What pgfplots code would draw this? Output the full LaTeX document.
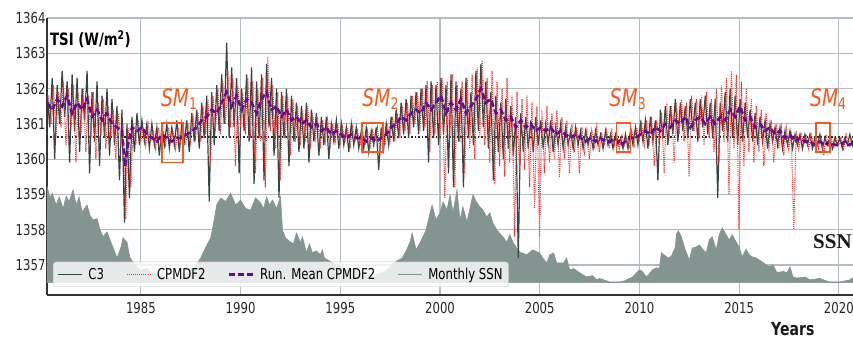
\documentclass[border=0pt]{standalone}
\usepackage{pgfplots}
\pgfplotsset{compat=1.18}
\usepackage{fontspec}
\setmainfont{DejaVu Sans}[FakeStretch=0.78]
\newfontfamily\ssnfont{Liberation Serif}
\definecolor{cthree}{RGB}{58,68,66}
\definecolor{cpm}{RGB}{255,45,45}
\definecolor{runmean}{RGB}{105,10,145}
\definecolor{ssn}{RGB}{132,148,145}
\definecolor{gridc}{RGB}{178,190,190}
\definecolor{smc}{RGB}{255,85,25}
\begin{document}
\begin{tikzpicture}
\useasboundingbox (-47pt,-47pt) rectangle (806pt,295pt);
\begin{axis}[
  at={(0pt,0pt)}, anchor=south west,
  scale only axis, width=806pt, height=277pt,
  xmin=1980.29, xmax=2020.71, ymin=1356.15, ymax=1364,
  xtick={1985,1990,...,2020}, ytick={1357,1358,...,1364},
  grid=major, major grid style={gridc, line width=1.1pt},
  axis x line*=bottom, axis y line*=left,
  axis line style={line width=1.3pt, black!80},
  major tick length=0pt,
  tick label style={font=\fontsize{15}{15}\selectfont, text=black!85},
  xticklabel style={yshift=-4pt},
  yticklabel style={xshift=2pt},
  /pgf/number format/1000 sep={},
  /pgf/number format/assume math mode=true,
  legend columns=4,
  legend image code/.code={\draw[#1] (0pt,0pt) -- (24pt,0pt);},
  legend style={at={(0.0074,0.029)}, anchor=south west,
    font=\fontsize{15}{15}\selectfont, draw=black!25, rounded corners=3pt,
    fill=white, fill opacity=0.8, text opacity=1, inner xsep=4pt, inner ysep=4pt,
    /tikz/every odd column/.append style={column sep=4pt},
    /tikz/every even column/.append style={column sep=20pt}},
]
% SSN filled area
\addplot[fill=ssn, draw=ssn, line width=0.6pt, forget plot] coordinates {
(1980.30,1356.5)(1980.30,1359.21)(1980.45,1358.9)(1980.55,1359.04)(1980.75,1358.7)(1980.90,1358.93)
(1981.10,1358.6)(1981.25,1358.95)(1981.40,1358.8)(1981.60,1359.13)(1981.75,1358.7)(1981.90,1358.93)
(1982.05,1358.5)(1982.30,1358.70)(1982.45,1358.4)(1982.60,1358.28)(1982.80,1358.31)(1982.95,1358.0)
(1983.10,1357.80)(1983.30,1357.94)(1983.45,1357.71)(1983.60,1357.5)(1983.80,1357.20)(1984.00,1357.5)
(1984.10,1357.77)(1984.30,1357.65)(1984.45,1357.20)(1984.60,1357.09)(1984.80,1356.95)(1985.00,1356.85)
(1985.30,1356.9)(1985.60,1356.75)(1985.90,1356.7)(1986.20,1356.6)(1986.50,1356.65)(1986.80,1356.6)
(1987.10,1356.7)(1987.40,1356.8)(1987.70,1356.95)(1988.00,1357.20)(1988.25,1357.5)(1988.50,1357.77)
(1988.65,1358.2)(1988.80,1358.70)(1989.00,1358.90)(1989.25,1358.8)(1989.50,1359.04)(1989.75,1358.7)
(1990.00,1358.84)(1990.25,1358.6)(1990.50,1358.56)(1990.75,1358.9)(1991.00,1358.76)(1991.15,1358.6)
(1991.30,1358.93)(1991.45,1358.7)(1991.60,1358.84)(1991.80,1358.6)(1992.00,1358.93)(1992.10,1357.99)
(1992.25,1357.77)(1992.50,1357.65)(1992.65,1357.6)(1992.80,1357.91)(1993.00,1357.63)(1993.10,1357.80)
(1993.30,1357.35)(1993.45,1357.6)(1993.60,1357.35)(1993.80,1357.4)(1994.00,1357.29)(1994.10,1357.43)
(1994.20,1357.20)(1994.50,1357.1)(1994.80,1357.0)(1995.10,1356.95)(1995.40,1356.85)(1995.70,1356.9)
(1996.00,1356.75)(1996.30,1356.7)(1996.60,1356.65)(1996.90,1356.75)(1997.20,1356.8)(1997.50,1356.95)
(1997.80,1357.1)(1998.10,1357.20)(1998.30,1357.4)(1998.50,1357.65)(1998.60,1357.91)(1998.80,1357.43)
(1999.00,1357.63)(1999.30,1357.99)(1999.50,1358.48)(1999.60,1358.70)(1999.80,1358.28)(2000.00,1358.48)
(2000.15,1358.79)(2000.35,1358.56)(2000.50,1358.99)(2000.65,1358.48)(2000.85,1359.13)(2001.00,1358.28)
(2001.15,1358.65)(2001.35,1358.22)(2001.50,1358.6)(2001.65,1358.99)(2001.85,1358.76)(2002.00,1358.65)
(2002.15,1358.56)(2002.35,1358.36)(2002.50,1358.48)(2002.65,1358.19)(2002.85,1357.99)(2003.15,1357.80)
(2003.35,1357.65)(2003.50,1357.86)(2003.65,1357.65)(2003.85,1357.48)(2004.00,1357.37)(2004.35,1357.29)
(2004.65,1357.43)(2005.00,1357.34)(2005.15,1357.20)(2005.35,1357.06)(2005.50,1357.29)(2005.70,1357.34)
(2005.85,1357.06)(2006.20,1357.06)(2006.35,1357.20)(2006.50,1356.86)(2006.70,1356.9)(2007.00,1356.78)
(2007.35,1356.66)(2007.65,1356.7)(2007.85,1356.58)(2008.00,1356.62)(2008.50,1356.52)(2009.00,1356.52)
(2009.25,1356.55)(2009.65,1356.66)(2010.00,1356.86)(2010.15,1356.82)(2010.35,1356.66)(2010.50,1356.75)
(2010.65,1356.86)(2010.85,1356.92)(2011.00,1356.9)(2011.10,1357.35)(2011.20,1357.30)(2011.45,1357.20)
(2011.60,1357.25)(2011.80,1357.51)(2011.85,1357.86)(2011.95,1357.97)(2012.10,1357.80)(2012.30,1357.43)
(2012.50,1357.14)(2012.65,1357.48)(2012.85,1357.51)(2013.00,1357.57)(2013.20,1357.43)(2013.35,1357.35)
(2013.50,1357.71)(2013.65,1357.80)(2013.85,1357.43)(2014.00,1357.86)(2014.15,1358.05)(2014.35,1357.86)
(2014.50,1357.71)(2014.65,1357.86)(2014.85,1357.65)(2015.00,1357.51)(2015.15,1357.23)(2015.35,1357.45)
(2015.50,1357.29)(2015.65,1357.23)(2015.85,1357.20)(2016.15,1357.09)(2016.50,1356.95)(2016.70,1357.00)
(2016.90,1356.78)(2017.20,1356.82)(2017.40,1356.78)(2017.55,1356.95)(2017.70,1356.66)(2017.90,1356.63)
(2018.30,1356.66)(2018.55,1356.58)(2018.80,1356.6)(2019.05,1356.62)(2019.30,1356.56)(2019.55,1356.52)
(2020.05,1356.52)(2020.55,1356.58)(2020.75,1356.66)(2020.75,1356.5)
} -- cycle;
% reference level
\addplot[forget plot, black!85, line width=1.2pt, dash pattern=on 1.5pt off 2pt] coordinates {(1980.29,1360.63)(2020.71,1360.63)};
% C3
\addplot[cthree, line width=1.2pt] coordinates {
(1980.300,1361.9)(1980.425,1360.9)(1980.550,1362.3)(1980.675,1360.0)(1980.800,1362.1)(1980.925,1361.0)
(1981.050,1362.5)(1981.175,1361.2)(1981.300,1362.2)(1981.425,1359.9)(1981.550,1362.4)(1981.675,1360.8)(1981.800,1362.3)(1981.925,1360.2)
(1982.050,1362.0)(1982.175,1361.1)(1982.300,1362.5)(1982.425,1359.6)(1982.550,1361.9)(1982.675,1360.5)(1982.800,1362.2)(1982.925,1359.8)
(1983.050,1361.8)(1983.175,1360.6)(1983.300,1362.0)(1983.425,1360.1)(1983.550,1361.7)(1983.675,1360.4)(1983.800,1361.5)(1983.925,1359.4)
(1984.050,1361.4)(1984.175,1358.2)(1984.300,1361.0)(1984.425,1358.9)(1984.550,1361.2)(1984.675,1360.2)(1984.800,1361.3)(1984.925,1360.4)
(1985.050,1361.1)(1985.175,1360.5)(1985.300,1361.0)(1985.425,1360.3)(1985.550,1361.0)(1985.675,1360.4)(1985.800,1360.9)(1985.925,1360.1)
(1986.050,1360.9)(1986.175,1360.4)(1986.300,1361.0)(1986.425,1360.3)(1986.550,1360.9)(1986.675,1360.4)(1986.800,1361.1)(1986.925,1360.2)
(1987.050,1361.0)(1987.175,1360.5)(1987.300,1361.1)(1987.425,1360.2)(1987.550,1361.3)(1987.675,1360.5)(1987.800,1361.4)(1987.925,1360.3)
(1988.050,1361.6)(1988.175,1360.6)(1988.300,1361.8)(1988.425,1358.8)(1988.550,1361.9)(1988.675,1360.4)(1988.800,1362.1)(1988.925,1360.8)
(1989.050,1362.4)(1989.175,1361.0)(1989.300,1363.3)(1989.425,1360.6)(1989.550,1362.6)(1989.675,1360.9)(1989.800,1362.3)(1989.925,1359.6)
(1990.050,1362.0)(1990.175,1360.8)(1990.300,1362.4)(1990.425,1360.5)(1990.550,1362.6)(1990.675,1359.3)(1990.800,1362.2)(1990.925,1360.6)
(1991.050,1362.4)(1991.175,1359.4)(1991.300,1362.7)(1991.425,1360.9)(1991.550,1362.3)(1991.675,1360.1)(1991.800,1362.0)(1991.925,1358.9)
(1992.050,1361.9)(1992.175,1360.6)(1992.300,1362.0)(1992.425,1359.8)(1992.550,1361.8)(1992.675,1360.5)(1992.800,1361.6)(1992.925,1360.2)
(1993.050,1361.5)(1993.175,1360.3)(1993.300,1361.6)(1993.425,1359.9)(1993.550,1361.4)(1993.675,1360.5)(1993.800,1361.3)(1993.925,1360.1)
(1994.050,1361.2)(1994.175,1360.4)(1994.300,1361.2)(1994.425,1360.0)(1994.550,1361.0)(1994.675,1360.5)(1994.800,1361.1)(1994.925,1360.3)
(1995.050,1361.0)(1995.175,1360.4)(1995.300,1360.9)(1995.425,1360.2)(1995.550,1361.0)(1995.675,1360.4)(1995.800,1360.9)(1995.925,1360.3)
(1996.050,1360.8)(1996.175,1360.3)(1996.300,1360.9)(1996.425,1360.2)(1996.550,1360.8)(1996.675,1360.4)(1996.800,1360.9)(1996.925,1359.7)
(1997.050,1360.9)(1997.175,1360.3)(1997.300,1361.0)(1997.425,1360.4)(1997.550,1361.2)(1997.675,1360.5)(1997.800,1361.4)(1997.925,1360.6)
(1998.050,1361.6)(1998.175,1360.7)(1998.300,1361.7)(1998.425,1360.6)(1998.550,1361.8)(1998.675,1360.9)(1998.800,1361.9)(1998.925,1360.7)
(1999.050,1362.0)(1999.175,1360.8)(1999.300,1362.1)(1999.425,1359.9)(1999.550,1362.2)(1999.675,1360.6)(1999.800,1362.1)(1999.925,1360.4)
(2000.050,1362.3)(2000.175,1360.7)(2000.300,1362.1)(2000.425,1359.6)(2000.550,1362.4)(2000.675,1359.2)(2000.800,1362.2)(2000.925,1360.5)
(2001.050,1362.0)(2001.175,1359.2)(2001.300,1362.3)(2001.425,1360.6)(2001.550,1361.9)(2001.675,1360.4)(2001.800,1362.5)(2001.925,1360.8)
(2002.050,1362.7)(2002.175,1360.9)(2002.300,1362.2)(2002.425,1360.3)(2002.550,1361.9)(2002.675,1359.4)(2002.800,1361.8)(2002.925,1360.2)
(2003.050,1361.6)(2003.175,1360.0)(2003.300,1361.7)(2003.425,1360.3)(2003.550,1361.5)(2003.675,1360.1)(2003.800,1361.2)(2003.925,1357.2)
(2004.050,1361.3)(2004.175,1360.2)(2004.300,1361.2)(2004.425,1360.3)(2004.550,1361.1)(2004.675,1360.2)(2004.800,1361.2)(2004.925,1360.4)
(2005.050,1361.1)(2005.175,1360.3)(2005.300,1361.0)(2005.425,1360.4)(2005.550,1361.1)(2005.675,1360.2)(2005.800,1360.9)(2005.925,1360.4)
(2006.050,1361.0)(2006.175,1360.3)(2006.300,1360.9)(2006.425,1360.4)(2006.550,1360.8)(2006.675,1360.3)(2006.800,1360.9)(2006.925,1360.4)
(2007.050,1360.8)(2007.175,1360.3)(2007.300,1360.8)(2007.425,1360.4)(2007.550,1360.7)(2007.675,1360.3)(2007.800,1360.8)(2007.925,1360.4)
(2008.050,1360.7)(2008.175,1360.3)(2008.300,1360.8)(2008.425,1360.4)(2008.550,1360.7)(2008.675,1360.3)(2008.800,1360.7)(2008.925,1360.4)
(2009.050,1360.6)(2009.175,1360.3)(2009.300,1360.7)(2009.425,1360.3)(2009.550,1360.8)(2009.675,1360.4)(2009.800,1360.9)(2009.925,1360.4)
(2010.050,1361.0)(2010.175,1360.5)(2010.300,1361.1)(2010.425,1360.3)(2010.550,1361.2)(2010.675,1360.5)(2010.800,1361.1)(2010.925,1359.4)
(2011.050,1361.4)(2011.175,1360.6)(2011.300,1361.5)(2011.425,1360.4)(2011.550,1361.5)(2011.675,1360.7)(2011.800,1361.7)(2011.925,1360.5)
(2012.050,1361.6)(2012.175,1360.8)(2012.300,1361.5)(2012.425,1360.6)(2012.550,1361.7)(2012.675,1360.8)(2012.800,1361.6)(2012.925,1360.5)
(2013.050,1361.7)(2013.175,1360.9)(2013.300,1361.8)(2013.425,1360.7)(2013.550,1361.6)(2013.675,1360.6)(2013.800,1361.7)(2013.925,1358.9)
(2014.050,1361.6)(2014.175,1360.8)(2014.300,1361.9)(2014.425,1360.5)(2014.550,1362.0)(2014.675,1360.6)(2014.800,1361.8)(2014.925,1360.4)
(2015.050,1361.7)(2015.175,1360.5)(2015.300,1361.6)(2015.425,1360.6)(2015.550,1361.4)(2015.675,1360.5)(2015.800,1361.3)(2015.925,1360.4)
(2016.050,1361.2)(2016.175,1360.5)(2016.300,1361.1)(2016.425,1360.3)(2016.550,1361.0)(2016.675,1360.5)(2016.800,1360.9)(2016.925,1360.4)
(2017.050,1360.9)(2017.175,1360.3)(2017.300,1360.8)(2017.425,1360.4)(2017.550,1360.8)(2017.675,1360.3)(2017.800,1360.7)(2017.925,1360.4)
(2018.050,1360.7)(2018.175,1360.3)(2018.300,1360.7)(2018.425,1360.4)(2018.550,1360.7)(2018.675,1360.3)(2018.800,1360.6)(2018.925,1360.4)
(2019.050,1360.7)(2019.175,1360.3)(2019.300,1360.6)(2019.425,1360.4)(2019.550,1360.6)(2019.675,1360.3)(2019.800,1360.6)(2019.925,1360.4)
(2020.050,1360.6)(2020.175,1360.3)(2020.300,1360.6)(2020.425,1360.4)(2020.550,1360.7)(2020.675,1360.4)(2020.750,1360.6)
};
\addlegendentry{C3}
% CPMDF2
\addplot[cpm, line width=1.1pt, dash pattern=on 1pt off 1.1pt] coordinates {
(1980.36,1361.8)(1980.49,1361.0)(1980.61,1362.1)(1980.74,1360.6)(1980.86,1361.9)(1980.99,1360.9)
(1981.11,1362.2)(1981.24,1360.4)(1981.36,1362.0)(1981.49,1360.8)(1981.61,1362.1)(1981.74,1359.9)(1981.86,1361.9)(1981.99,1360.7)
(1982.11,1362.0)(1982.24,1360.2)(1982.36,1361.8)(1982.49,1360.6)(1982.61,1361.9)(1982.74,1360.0)(1982.86,1361.6)(1982.99,1360.7)
(1983.11,1361.7)(1983.24,1360.3)(1983.36,1361.5)(1983.49,1360.6)(1983.61,1361.4)(1983.74,1360.0)(1983.86,1361.3)(1983.99,1360.5)
(1984.11,1361.0)(1984.24,1358.3)(1984.36,1360.9)(1984.49,1359.2)(1984.61,1361.0)(1984.74,1360.4)(1984.86,1361.1)(1984.99,1360.5)
(1985.11,1360.9)(1985.24,1360.4)(1985.36,1361.0)(1985.49,1360.5)(1985.61,1360.8)(1985.74,1360.3)(1985.86,1360.9)(1985.99,1360.5)
(1986.11,1360.8)(1986.24,1360.4)(1986.36,1360.9)(1986.49,1360.5)(1986.61,1360.8)(1986.74,1360.3)(1986.86,1360.9)(1986.99,1360.5)
(1987.11,1360.9)(1987.24,1360.4)(1987.36,1361.0)(1987.49,1360.5)(1987.61,1361.2)(1987.74,1360.6)(1987.86,1361.3)(1987.99,1360.5)
(1988.11,1361.5)(1988.24,1360.7)(1988.36,1361.7)(1988.49,1359.9)(1988.61,1361.8)(1988.74,1360.8)(1988.86,1362.0)(1988.99,1360.7)
(1989.11,1362.2)(1989.24,1361.0)(1989.36,1362.5)(1989.49,1360.9)(1989.61,1362.3)(1989.74,1359.8)(1989.86,1362.1)(1989.99,1360.9)
(1990.11,1361.9)(1990.24,1360.7)(1990.36,1362.3)(1990.49,1360.6)(1990.61,1362.2)(1990.74,1359.6)(1990.86,1362.0)(1990.99,1360.5)
(1991.11,1362.3)(1991.24,1359.2)(1991.36,1362.9)(1991.49,1360.8)(1991.61,1362.1)(1991.74,1360.3)(1991.86,1361.9)(1991.99,1359.4)
(1992.11,1361.8)(1992.24,1360.6)(1992.36,1361.8)(1992.49,1360.1)(1992.61,1361.7)(1992.74,1360.5)(1992.86,1361.5)(1992.99,1360.4)
(1993.11,1361.4)(1993.24,1360.5)(1993.36,1361.5)(1993.49,1360.3)(1993.61,1361.3)(1993.74,1360.6)(1993.86,1361.2)(1993.99,1360.3)
(1994.11,1361.1)(1994.24,1360.5)(1994.36,1361.1)(1994.49,1360.3)(1994.61,1361.0)(1994.74,1360.5)(1994.86,1361.0)(1994.99,1360.4)
(1995.11,1360.9)(1995.24,1360.5)(1995.36,1360.9)(1995.49,1360.3)(1995.61,1360.9)(1995.74,1360.5)(1995.86,1360.8)(1995.99,1360.4)
(1996.11,1360.8)(1996.24,1360.4)(1996.36,1360.8)(1996.49,1360.3)(1996.61,1360.8)(1996.74,1360.5)(1996.86,1360.9)(1996.99,1360.2)
(1997.11,1360.9)(1997.24,1360.4)(1997.36,1361.0)(1997.49,1360.5)(1997.61,1361.2)(1997.74,1360.6)(1997.86,1361.3)(1997.99,1360.7)
(1998.11,1361.5)(1998.24,1360.8)(1998.36,1361.6)(1998.49,1360.7)(1998.61,1361.8)(1998.74,1361.0)(1998.86,1361.9)(1998.99,1360.8)
(1999.11,1362.0)(1999.24,1360.9)(1999.36,1362.2)(1999.49,1360.2)(1999.61,1362.1)(1999.74,1360.7)(1999.86,1362.2)(1999.99,1360.6)
(2000.11,1362.3)(2000.24,1358.9)(2000.36,1362.2)(2000.49,1360.6)(2000.61,1362.4)(2000.74,1359.2)(2000.86,1362.1)(2000.99,1360.5)
(2001.11,1362.2)(2001.24,1359.6)(2001.36,1362.3)(2001.49,1360.3)(2001.61,1362.4)(2001.74,1360.0)(2001.86,1362.6)(2001.99,1360.6)
(2002.11,1362.8)(2002.24,1360.4)(2002.36,1362.3)(2002.49,1359.9)(2002.61,1362.5)(2002.74,1359.3)(2002.86,1362.2)(2002.99,1359.8)
(2003.11,1362.0)(2003.24,1359.5)(2003.36,1362.3)(2003.49,1359.9)(2003.61,1361.8)(2003.74,1357.8)(2003.86,1361.9)(2003.99,1359.6)
(2004.11,1361.7)(2004.24,1359.7)(2004.36,1361.8)(2004.49,1359.2)(2004.61,1361.6)(2004.74,1358.6)(2004.86,1361.5)(2004.99,1357.8)
(2005.11,1361.4)(2005.24,1359.6)(2005.36,1361.5)(2005.49,1359.9)(2005.61,1361.3)(2005.74,1360.0)(2005.86,1361.4)(2005.99,1359.5)
(2006.11,1361.2)(2006.24,1360.0)(2006.36,1361.1)(2006.49,1359.6)(2006.61,1361.0)(2006.74,1360.2)(2006.86,1360.9)(2006.99,1359.6)
(2007.11,1360.9)(2007.24,1360.2)(2007.36,1360.8)(2007.49,1360.0)(2007.61,1360.8)(2007.74,1360.3)(2007.86,1360.9)(2007.99,1360.2)
(2008.11,1360.7)(2008.24,1360.4)(2008.36,1360.8)(2008.49,1360.3)(2008.61,1360.8)(2008.74,1360.4)(2008.86,1360.7)(2008.99,1360.3)
(2009.11,1360.7)(2009.24,1360.4)(2009.36,1360.6)(2009.49,1360.3)(2009.61,1360.8)(2009.74,1360.4)(2009.86,1360.9)(2009.99,1360.5)
(2010.11,1361.0)(2010.24,1360.4)(2010.36,1361.1)(2010.49,1360.5)(2010.61,1361.2)(2010.74,1359.8)(2010.86,1361.1)(2010.99,1360.5)
(2011.11,1361.3)(2011.24,1359.6)(2011.36,1361.6)(2011.49,1360.6)(2011.61,1361.5)(2011.74,1359.9)(2011.86,1361.6)(2011.99,1360.7)
(2012.11,1361.7)(2012.24,1360.5)(2012.36,1361.6)(2012.49,1359.5)(2012.61,1361.8)(2012.74,1360.8)(2012.86,1361.7)(2012.99,1360.6)
(2013.11,1361.8)(2013.24,1360.4)(2013.36,1361.9)(2013.49,1360.6)(2013.61,1361.7)(2013.74,1360.2)(2013.86,1362.0)(2013.99,1359.9)
(2014.11,1362.1)(2014.24,1360.5)(2014.36,1362.3)(2014.49,1359.0)(2014.61,1362.5)(2014.74,1360.3)(2014.86,1362.4)(2014.99,1358.0)
(2015.11,1362.2)(2015.24,1359.8)(2015.36,1362.0)(2015.49,1360.2)(2015.61,1361.7)(2015.74,1359.9)(2015.86,1361.5)(2015.99,1360.2)
(2016.11,1361.4)(2016.24,1359.8)(2016.36,1361.3)(2016.49,1360.2)(2016.61,1361.1)(2016.74,1359.9)(2016.86,1361.0)(2016.99,1360.3)
(2017.11,1360.9)(2017.24,1360.1)(2017.36,1360.9)(2017.49,1360.3)(2017.61,1360.8)(2017.74,1358.0)(2017.86,1360.8)(2017.99,1360.3)
(2018.11,1360.7)(2018.24,1360.4)(2018.36,1360.7)(2018.49,1360.3)(2018.61,1360.7)(2018.74,1360.4)(2018.86,1360.6)(2018.99,1360.3)
(2019.11,1360.6)(2019.24,1360.1)(2019.36,1360.7)(2019.49,1360.4)(2019.61,1360.6)(2019.74,1360.3)(2019.86,1360.6)(2019.99,1360.4)
(2020.11,1360.6)(2020.24,1360.3)(2020.36,1360.7)(2020.49,1360.4)(2020.61,1360.6)(2020.74,1360.5)
};
\addlegendentry{CPMDF2}
% running mean
\addplot[runmean, line width=2.6pt, dash pattern=on 6pt off 3pt] coordinates {
(1980.30,1361.6)(1980.55,1361.4)(1980.80,1361.7)(1981.05,1361.5)(1981.30,1361.8)(1981.55,1361.3)(1981.80,1361.6)
(1982.05,1361.4)(1982.30,1361.7)(1982.55,1361.2)(1982.80,1361.4)(1983.05,1361.1)(1983.30,1361.3)(1983.55,1361.0)
(1983.80,1360.9)(1984.05,1360.8)(1984.20,1359.8)(1984.35,1360.4)(1984.55,1360.9)(1984.80,1360.8)(1985.05,1360.9)
(1985.30,1360.7)(1985.55,1360.6)(1985.80,1360.5)(1986.05,1360.7)(1986.30,1360.6)(1986.55,1360.5)(1986.80,1360.6)
(1987.05,1360.6)(1987.30,1360.7)(1987.55,1360.8)(1987.80,1360.9)(1988.05,1361.1)(1988.30,1361.2)(1988.55,1361.4)
(1988.80,1361.3)(1989.05,1361.6)(1989.30,1361.9)(1989.55,1361.5)(1989.80,1361.8)(1990.05,1361.4)(1990.30,1361.7)
(1990.55,1361.6)(1990.80,1361.3)(1991.05,1361.7)(1991.30,1361.9)(1991.55,1361.4)(1991.80,1361.5)(1992.05,1361.2)
(1992.30,1361.4)(1992.55,1361.1)(1992.80,1361.2)(1993.05,1361.0)(1993.30,1361.1)(1993.55,1360.9)(1993.80,1361.0)
(1994.05,1360.8)(1994.30,1360.9)(1994.55,1360.7)(1994.80,1360.8)(1995.05,1360.7)(1995.30,1360.6)(1995.55,1360.7)
(1995.80,1360.6)(1996.05,1360.6)(1996.30,1360.5)(1996.55,1360.6)(1996.80,1360.5)(1997.05,1360.6)(1997.30,1360.7)
(1997.55,1360.9)(1997.80,1361.0)(1998.05,1361.2)(1998.30,1361.1)(1998.55,1361.3)(1998.80,1361.4)(1999.05,1361.3)
(1999.30,1361.6)(1999.55,1361.4)(1999.80,1361.6)(2000.05,1361.8)(2000.30,1361.3)(2000.55,1361.6)(2000.80,1361.4)
(2001.05,1361.7)(2001.30,1361.3)(2001.55,1361.5)(2001.80,1361.7)(2002.05,1362.0)(2002.30,1361.6)(2002.55,1361.7)
(2002.80,1361.3)(2003.05,1361.4)(2003.30,1361.1)(2003.55,1361.2)(2003.80,1360.9)(2004.05,1361.1)(2004.30,1360.9)
(2004.55,1361.0)(2004.80,1360.8)(2005.05,1360.9)(2005.30,1360.8)(2005.55,1360.9)(2005.80,1360.7)(2006.05,1360.8)
(2006.30,1360.7)(2006.55,1360.6)(2006.80,1360.7)(2007.05,1360.6)(2007.30,1360.5)(2007.55,1360.6)(2007.80,1360.5)
(2008.05,1360.6)(2008.30,1360.5)(2008.55,1360.5)(2008.80,1360.6)(2009.05,1360.4)(2009.30,1360.5)(2009.55,1360.6)
(2009.80,1360.6)(2010.05,1360.7)(2010.30,1360.8)(2010.55,1360.7)(2010.80,1360.9)(2011.05,1360.8)(2011.30,1361.0)
(2011.55,1360.9)(2011.80,1361.1)(2012.05,1361.0)(2012.30,1361.2)(2012.55,1360.9)(2012.80,1361.1)(2013.05,1361.2)
(2013.30,1361.0)(2013.55,1361.2)(2013.80,1361.0)(2014.05,1361.2)(2014.30,1361.1)(2014.55,1361.4)(2014.80,1361.2)
(2015.05,1361.5)(2015.30,1361.1)(2015.55,1361.2)(2015.80,1360.9)(2016.05,1361.0)(2016.30,1360.8)(2016.55,1360.9)
(2016.80,1360.7)(2017.05,1360.8)(2017.30,1360.6)(2017.55,1360.7)(2017.80,1360.5)(2018.05,1360.6)(2018.30,1360.5)
(2018.55,1360.5)(2018.80,1360.4)(2019.05,1360.5)(2019.30,1360.4)(2019.55,1360.5)(2019.80,1360.4)(2020.05,1360.4)
(2020.30,1360.5)(2020.55,1360.4)(2020.75,1360.5)
};
\addlegendentry{Run. Mean CPMDF2}
\addlegendimage{ssn, line width=1pt}
\addlegendentry{Monthly SSN}
% SM boxes and labels
\draw[smc, line width=1.6pt] (axis cs:1986.05,1359.9) rectangle (axis cs:1987.1,1361.03);
\draw[smc, line width=1.6pt] (axis cs:1996.1,1360.2) rectangle (axis cs:1997.15,1361.03);
\draw[smc, line width=1.6pt] (axis cs:2008.85,1360.2) rectangle (axis cs:2009.55,1361.03);
\draw[smc, line width=1.6pt] (axis cs:2018.85,1360.2) rectangle (axis cs:2019.55,1361.03);
\node[anchor=base west, text=smc, inner sep=0pt] at (axis cs:1986.0,1361.48) {\fontsize{24}{24}\selectfont\itshape SM\raisebox{-3pt}{\fontsize{16}{16}\selectfont\upshape 1}};
\node[anchor=base west, text=smc, inner sep=0pt] at (axis cs:1996.1,1361.5) {\fontsize{24}{24}\selectfont\itshape SM\raisebox{-3pt}{\fontsize{16}{16}\selectfont\upshape 2}};
\node[anchor=base west, text=smc, inner sep=0pt] at (axis cs:2008.5,1361.5) {\fontsize{24}{24}\selectfont\itshape SM\raisebox{-3pt}{\fontsize{16}{16}\selectfont\upshape 3}};
\node[anchor=base west, text=smc, inner sep=0pt] at (axis cs:2018.55,1361.5) {\fontsize{24}{24}\selectfont\itshape SM\raisebox{-3pt}{\fontsize{16}{16}\selectfont\upshape 4}};
\end{axis}
\node[anchor=base west, inner sep=0pt] at (3pt,249pt) {\fontsize{17}{17}\selectfont\bfseries TSI (W/m\textsuperscript{2})};
\node[anchor=base west, inner sep=0pt, text=black!90] at (766pt,46pt) {\ssnfont\fontsize{21}{21}\selectfont\bfseries SSN};
\node[anchor=base west, inner sep=0pt, text=black!90] at (724pt,-41pt) {\fontsize{18}{18}\selectfont\bfseries Years};
\end{tikzpicture}
\end{document}
